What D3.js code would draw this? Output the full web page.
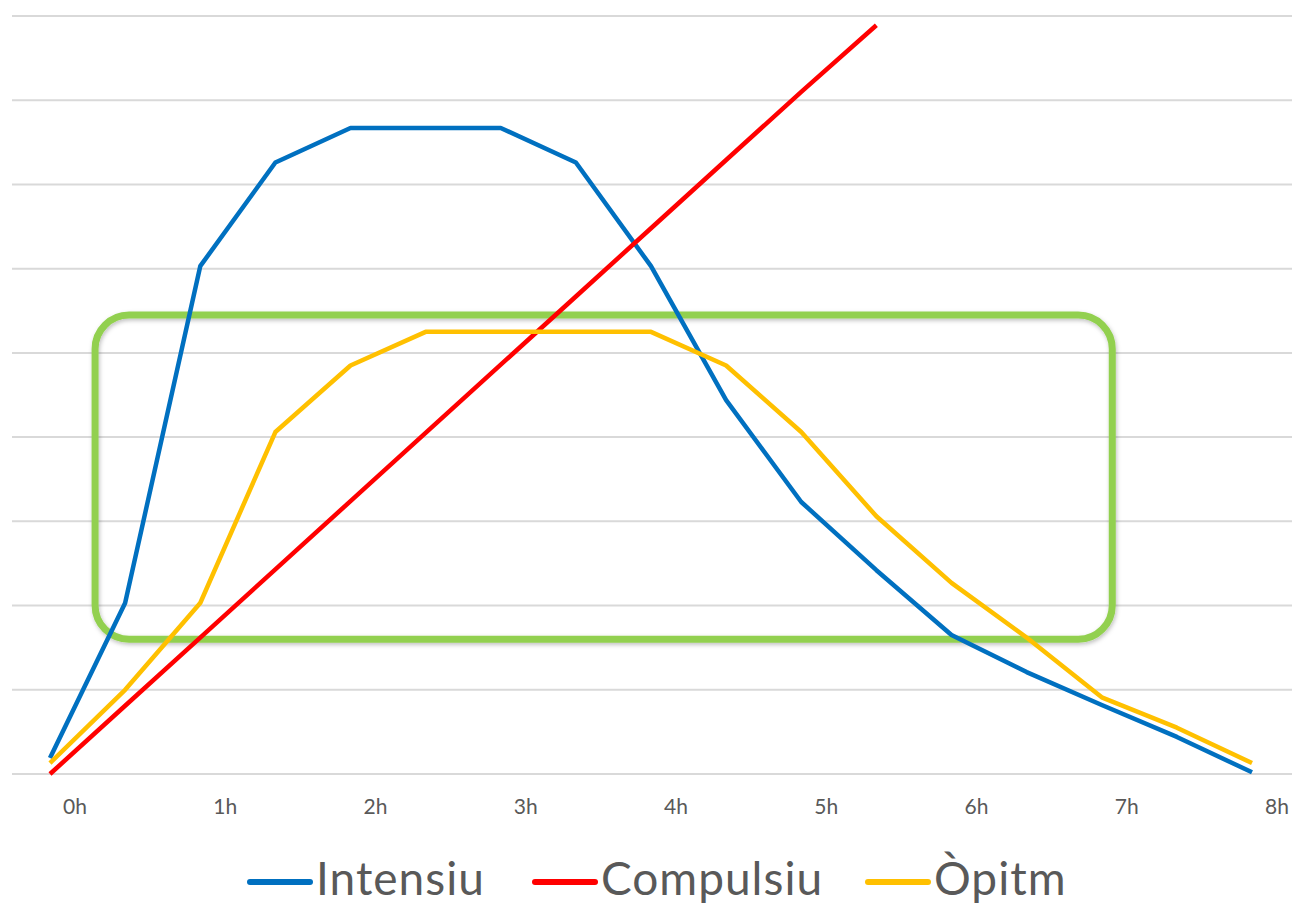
<!DOCTYPE html>
<html>
<head>
<meta charset="utf-8">
<script src="https://cdn.jsdelivr.net/npm/d3@7"></script>
<style>
  body { margin: 0; background: #fff; }
  svg text { font-family: Lato, "Open Sans", sans-serif; }
</style>
</head>
<body>
<svg id="chart" width="1292" height="904"></svg>
<script>
// half-hour steps, 0h .. 8h
const steps = [0, 0.5, 1, 1.5, 2, 2.5, 3, 3.5, 4, 4.5, 5, 5.5, 6, 6.5, 7, 7.5, 8];
const hourLabels = ["0h", "1h", "2h", "3h", "4h", "5h", "6h", "7h", "8h"];
const gridValues = [0, 1, 2, 3, 4, 5, 6, 7, 8, 9];

const intensiu = [0.19, 2.03, 6.03, 7.26, 7.67, 7.67, 7.67, 7.26, 6.03, 4.44, 3.23, 2.42, 1.65, 1.21, 0.82, 0.44, 0.02];
const compulsiu = [0, 0.81, 1.62, 2.43, 3.24, 4.05, 4.86, 5.67, 6.48, 7.29, 8.10, 8.89];
const opitm = [0.13, 1.0, 2.03, 4.06, 4.85, 5.25, 5.25, 5.25, 5.25, 4.85, 4.06, 3.06, 2.27, 1.62, 0.91, 0.55, 0.13];

const series = [
  {name: "Intensiu", values: intensiu, color: "#0070c0"},
  {name: "Compulsiu", values: compulsiu, color: "#ff0000"},
  {name: "Òpitm", values: opitm, color: "#ffc000"}
];

const svg = d3.select("#chart");

const x = d3.scaleLinear().domain([0, 8]).range([50, 1252]);
const y = d3.scaleLinear().domain([0, 9]).range([774, 16]);

// gridlines
svg.append("g")
  .selectAll("line")
  .data(gridValues)
  .join("line")
    .attr("x1", 12)
    .attr("x2", 1292)
    .attr("y1", d => y(d))
    .attr("y2", d => y(d))
    .attr("stroke", "#d9d9d9")
    .attr("stroke-width", 2);

// hour labels (shifted a bit right of the points, as in the original)
svg.append("g")
  .selectAll("text")
  .data(hourLabels)
  .join("text")
    .attr("x", (d, i) => x(i) + 25)
    .attr("y", 814)
    .attr("text-anchor", "middle")
    .attr("font-size", 21)
    .attr("fill", "#595959")
    .text(d => d);

// green highlight box
const defs = svg.append("defs");
const f = defs.append("filter").attr("id", "shadow").attr("x", "-5%").attr("y", "-5%").attr("width", "110%").attr("height", "115%");
f.append("feDropShadow").attr("dx", 1).attr("dy", 2).attr("stdDeviation", 2).attr("flood-color", "#000").attr("flood-opacity", 0.25);

svg.append("rect")
  .attr("x", x(0.3))
  .attr("y", y(5.45))
  .attr("width", x(7.07) - x(0.3))
  .attr("height", y(1.6) - y(5.45))
  .attr("rx", 34)
  .attr("ry", 34)
  .attr("fill", "none")
  .attr("stroke", "#92d050")
  .attr("stroke-width", 7)
  .attr("filter", "url(#shadow)");

const line = d3.line()
  .x((d, i) => x(steps[i]))
  .y(d => y(d));

svg.append("g")
  .selectAll("path")
  .data(series)
  .join("path")
    .attr("fill", "none")
    .attr("stroke", d => d.color)
    .attr("stroke-width", 4.5)
    .attr("stroke-linejoin", "round")
    .attr("d", d => line(d.values));

// legend
const legendX = [248, 533, 866];
const lg = svg.append("g")
  .selectAll("g")
  .data(series)
  .join("g")
    .attr("transform", (d, i) => "translate(" + legendX[i] + ",882)");

lg.append("line")
  .attr("x1", 2)
  .attr("x2", 62)
  .attr("stroke", d => d.color)
  .attr("stroke-width", 6)
  .attr("stroke-linecap", "round");

lg.append("text")
  .attr("x", 68)
  .attr("y", 13)
  .attr("font-size", 46)
  .attr("letter-spacing", 1)
  .attr("fill", "#595959")
  .text(d => d.name);
</script>
</body>
</html>
